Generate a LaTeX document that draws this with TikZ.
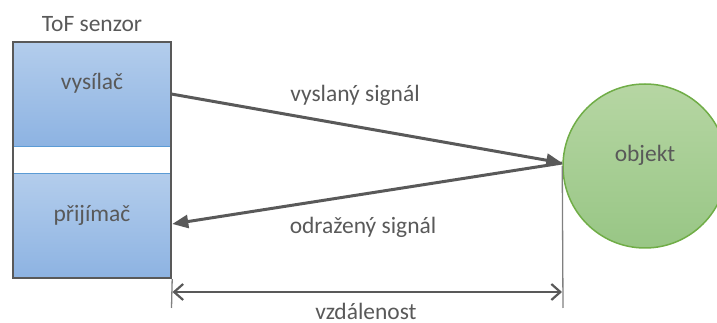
\documentclass[tikz,border=0pt]{standalone}
\usepackage{fontspec}
\setmainfont{Carlito}
\usetikzlibrary{arrows.meta,calc}
\definecolor{txtgray}{HTML}{595959}
\definecolor{linegray}{HTML}{595959}
\definecolor{dimgray}{HTML}{808080}
\definecolor{blueTop}{HTML}{B3CDEC}
\definecolor{blueBot}{HTML}{8DB3E2}
\definecolor{blueLine}{HTML}{5B9BD5}
\definecolor{greenTop}{HTML}{B6D6A3}
\definecolor{greenBot}{HTML}{98C685}
\definecolor{greenLine}{HTML}{70AD47}
\tikzset{
  txt/.style={font=\fontsize{17.6pt}{20pt}\selectfont, text=txtgray},
  part/.style={rectangle, inner sep=0pt, minimum width=158*0.75pt, minimum height=104*0.75pt,
     top color=blueTop, bottom color=blueBot, draw=none},
  sig/.style={draw=linegray, line width=3*0.75pt, -{Triangle[length=16*0.75pt,width=13*0.75pt]}},
  dimline/.style={draw=dimgray, line width=1.3*0.75pt},
  dimarrow/.style={draw=linegray, line width=2.2*0.75pt, {Straight Barb[length=9*0.75pt,width=16*0.75pt]}-{Straight Barb[length=9*0.75pt,width=16*0.75pt]}},
}
\begin{document}
\begin{tikzpicture}[x=0.75pt,y=-0.75pt]
\useasboundingbox (0,0) rectangle (717,323);
% sensor parts
\node[part, label={[txt,yshift=11*0.75pt]center:vysílač}] (tx) at (92,94) {};
\node[part, label={[txt,yshift=11*0.75pt]center:přijímač}] (rx) at (92,226) {};
\draw[blueLine, line width=1.2*0.75pt] (tx.south west) -- (tx.south east);
\draw[blueLine, line width=1.2*0.75pt] (rx.north west) -- (rx.north east);
\node[draw=txtgray, line width=2.4*0.75pt, rectangle, inner sep=0pt, minimum width=158*0.75pt, minimum height=236*0.75pt] (sensor) at (92,160) {};
\node[txt, anchor=south] (title) at (sensor.north) [yshift=4*0.75pt] {ToF senzor};
% object
\node[circle, inner sep=0pt, minimum size=164*0.75pt, top color=greenTop, bottom color=greenBot, draw=greenLine, line width=1.5*0.75pt,
  label={[txt,yshift=11*0.75pt]center:objekt}] (obj) at (645,166) {};
% signals
\coordinate (hit) at ($(obj.west)+(0,-3)$);
\draw[sig] (tx.east) -- (hit);
\draw[sig] (hit) -- ($(rx.east)+(1,-2)$);
\node[txt] (l1) at (355,95) {vyslaný signál};
\node[txt] (l2) at (363,227) {odražený signál};
% dimension
\coordinate (d1) at (171.5,308);
\coordinate (d2) at (563,308);
\draw[dimline] (sensor.south east) -- (d1);
\draw[dimline] (obj.west) -- (d2);
\draw[dimarrow] ($(d1)+(1,-16)$) -- ($(d2)+(-1,-16)$);
\node[txt] (l3) at (366,311) {vzdálenost};
\end{tikzpicture}
\end{document}
